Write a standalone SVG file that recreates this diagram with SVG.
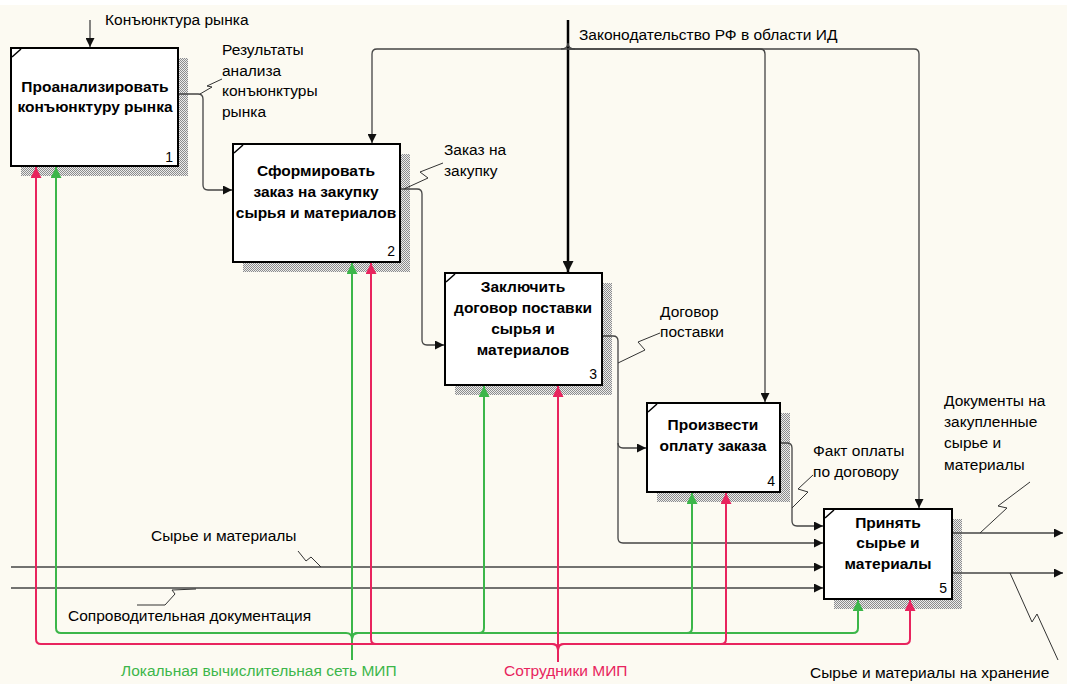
<svg xmlns="http://www.w3.org/2000/svg" width="1067" height="684" viewBox="0 0 1067 684">
<defs>
<pattern id="hatch" width="2" height="2" patternUnits="userSpaceOnUse"><rect width="2" height="2" fill="#ececec"/><rect width="1" height="1" fill="#8c8c8c"/><rect x="1" y="1" width="1" height="1" fill="#8c8c8c"/></pattern>
<marker id="a" viewBox="0 0 10 10" refX="10" refY="5" markerWidth="10" markerHeight="9" orient="auto" markerUnits="userSpaceOnUse"><path d="M0,0 L10,5 L0,10 z" fill="#111"/></marker>
<marker id="ab" viewBox="0 0 10 10" refX="10" refY="5" markerWidth="12" markerHeight="11" orient="auto" markerUnits="userSpaceOnUse"><path d="M0,0 L10,5 L0,10 z" fill="#111"/></marker>
<marker id="g" viewBox="0 0 10 10" refX="10" refY="5" markerWidth="11" markerHeight="11" orient="auto" markerUnits="userSpaceOnUse"><path d="M0,0 L10,5 L0,10 z" fill="#3cb64a"/></marker>
<marker id="p" viewBox="0 0 10 10" refX="10" refY="5" markerWidth="11" markerHeight="11" orient="auto" markerUnits="userSpaceOnUse"><path d="M0,0 L10,5 L0,10 z" fill="#e8245e"/></marker>
</defs>
<style>
.bg{fill:#fcfaf2}
.box{fill:#fff;stroke:#000;stroke-width:2}
.sh{fill:url(#hatch)}
.tk{stroke:#000;stroke-width:1.5;fill:none}
.t{font-family:"Liberation Sans",Arial,sans-serif;font-size:15.5px;font-weight:bold;fill:#000;text-anchor:middle}
.n{font-family:"Liberation Sans",Arial,sans-serif;font-size:14px;fill:#000;text-anchor:end}
.l{font-family:"Liberation Sans",Arial,sans-serif;font-size:15.5px;fill:#000}
.c{fill:none;stroke:#444;stroke-width:1.3}
.cb{fill:none;stroke:#000;stroke-width:2.5}
.sq{fill:none;stroke:#333;stroke-width:1}
.gr{fill:none;stroke:#3cb64a;stroke-width:2}
.pk{fill:none;stroke:#e8245e;stroke-width:2}
</style>
<rect x="0" y="0" width="1067" height="684" fill="#fff"/>
<rect class="bg" x="0" y="5" width="1067" height="679"/>

<g id="node1">
<rect class="sh" x="21" y="58" width="167" height="118"/>
<rect class="box" x="11" y="48" width="167" height="118"/>
<path class="tk" d="M12,57 L21,49"/>
<text class="t" x="95" y="92">Проанализировать</text>
<text class="t" x="95" y="112">конъюнктуру рынка</text>
<text class="n" x="173" y="162">1</text>
</g>
<g id="node2">
<rect class="sh" x="243" y="154" width="167" height="118"/>
<rect class="box" x="233" y="144" width="167" height="118"/>
<path class="tk" d="M234,153 L243,145"/>
<text class="t" x="316" y="176">Сформировать</text>
<text class="t" x="316" y="197">заказ на закупку</text>
<text class="t" x="316" y="218">сырья и материалов</text>
<text class="n" x="395" y="256">2</text>
</g>
<g id="node3">
<rect class="sh" x="455" y="283" width="157" height="112"/>
<rect class="box" x="445" y="273" width="157" height="112"/>
<path class="tk" d="M446,282 L455,274"/>
<text class="t" x="523" y="292">Заключить</text>
<text class="t" x="523" y="313">договор поставки</text>
<text class="t" x="523" y="334">сырья и</text>
<text class="t" x="523" y="355">материалов</text>
<text class="n" x="597" y="379">3</text>
</g>
<g id="node4">
<rect class="sh" x="657" y="413" width="133" height="89"/>
<rect class="box" x="647" y="403" width="133" height="89"/>
<path class="tk" d="M648,412 L657,404"/>
<text class="t" x="713" y="430">Произвести</text>
<text class="t" x="713" y="451">оплату заказа</text>
<text class="n" x="775" y="486">4</text>
</g>
<g id="node5">
<rect class="sh" x="834" y="519" width="128" height="90"/>
<rect class="box" x="824" y="509" width="128" height="90"/>
<path class="tk" d="M825,518 L834,510"/>
<text class="t" x="888" y="528">Принять</text>
<text class="t" x="888" y="548">сырье и</text>
<text class="t" x="888" y="569">материалы</text>
<text class="n" x="947" y="593">5</text>
</g>

<g id="connectors">
<path class="c" d="M90,20 V47" marker-end="url(#a)"/>
<path class="cb" d="M568,20 V272" marker-end="url(#ab)"/>
<path class="c" d="M561,49 Q568,49 568,43 M575,49 Q568,49 568,43"/>
<path class="c" d="M568,49 H377 Q372,49 372,54 V143" marker-end="url(#a)"/>
<path class="c" d="M568,49 H760 Q765,49 765,54 V402" marker-end="url(#a)"/>
<path class="c" d="M568,49 H914 Q919,49 919,54 V508" marker-end="url(#a)"/>
<path class="c" d="M179,94 H198 Q203,94 203,99 V185 Q203,190 208,190 H232" marker-end="url(#a)"/>
<path class="c" d="M401,189 H417 Q422,189 422,194 V340 Q422,345 427,345 H444" marker-end="url(#a)"/>
<path class="c" d="M603,336 H613 Q618,336 618,341 V538 Q618,543 623,543 H823" marker-end="url(#a)"/>
<path class="c" d="M618,443 Q618,448 623,448 H646" marker-end="url(#a)"/>
<path class="c" d="M781,443 H787 Q792,443 792,448 V521 Q792,526 797,526 H823" marker-end="url(#a)"/>
<path class="c" d="M11,567 H823" marker-end="url(#a)"/>
<path class="c" d="M11,588 H823" marker-end="url(#a)"/>
<path class="c" d="M953,533 H1063" marker-end="url(#a)"/>
<path class="c" d="M953,573 H1063" marker-end="url(#a)"/>
<path class="sq" d="M200,94 L212,87 L207,86 L222,79"/>
<path class="sq" d="M404,189 L428,178 L420,172 L443,163"/>
<path class="sq" d="M618,363 L645,350 L638,342 L660,333"/>
<path class="sq" d="M792,508 L808,492 L798,489 L813,475"/>
<path class="sq" d="M321,567 L311,557 L306,561 L298,551"/>
<path class="sq" d="M196,589 L172,590 L175,594 L165,605 L137,605"/>
<path class="sq" d="M980,533 L1007,508 L998,506 L1030,482"/>
<path class="sq" d="M1010,573 L1032,622 L1037,614 L1058,660"/>
<path class="gr" d="M352,639 Q352,633 346,633 H61 Q56,633 56,628 V167" marker-end="url(#g)"/>
<path class="gr" d="M352,660 V263" marker-end="url(#g)"/>
<path class="gr" d="M352,639 Q352,633 358,633 H479 Q484,633 484,628 V386" marker-end="url(#g)"/>
<path class="gr" d="M352,639 Q352,633 358,633 H687 Q692,633 692,628 V493" marker-end="url(#g)"/>
<path class="gr" d="M352,639 Q352,633 358,633 H853 Q858,633 858,628 V600" marker-end="url(#g)"/>
<path class="pk" d="M558,650 Q558,644 552,644 H41 Q36,644 36,639 V167" marker-end="url(#p)"/>
<path class="pk" d="M558,650 Q558,644 552,644 H376 Q371,644 371,639 V263" marker-end="url(#p)"/>
<path class="pk" d="M558,662 V386" marker-end="url(#p)"/>
<path class="pk" d="M558,650 Q558,644 564,644 H721 Q726,644 726,639 V493" marker-end="url(#p)"/>
<path class="pk" d="M558,650 Q558,644 564,644 H905 Q910,644 910,639 V600" marker-end="url(#p)"/>
</g>

<g id="labels">
<text class="l" x="105" y="25">Конъюнктура рынка</text>
<text class="l" x="222" y="55">Результаты</text>
<text class="l" x="222" y="76">анализа</text>
<text class="l" x="222" y="96">конъюнктуры</text>
<text class="l" x="222" y="117">рынка</text>
<text class="l" x="579" y="40">Законодательство РФ в области ИД</text>
<text class="l" x="444" y="155">Заказ на</text>
<text class="l" x="444" y="176">закупку</text>
<text class="l" x="660" y="317">Договор</text>
<text class="l" x="660" y="337">поставки</text>
<text class="l" x="813" y="456">Факт оплаты</text>
<text class="l" x="813" y="477">по договору</text>
<text class="l" x="944" y="406">Документы на</text>
<text class="l" x="944" y="427">закупленные</text>
<text class="l" x="944" y="448">сырье и</text>
<text class="l" x="944" y="470">материалы</text>
<text class="l" x="151" y="541">Сырье и материалы</text>
<text class="l" x="68" y="621">Сопроводительная документация</text>
<text class="l" x="121" y="676" style="fill:#3cb64a">Локальная вычислительная сеть МИП</text>
<text class="l" x="504" y="676" style="fill:#e8245e">Сотрудники МИП</text>
<text class="l" x="810" y="678">Сырье и материалы на хранение</text>
</g>
</svg>
